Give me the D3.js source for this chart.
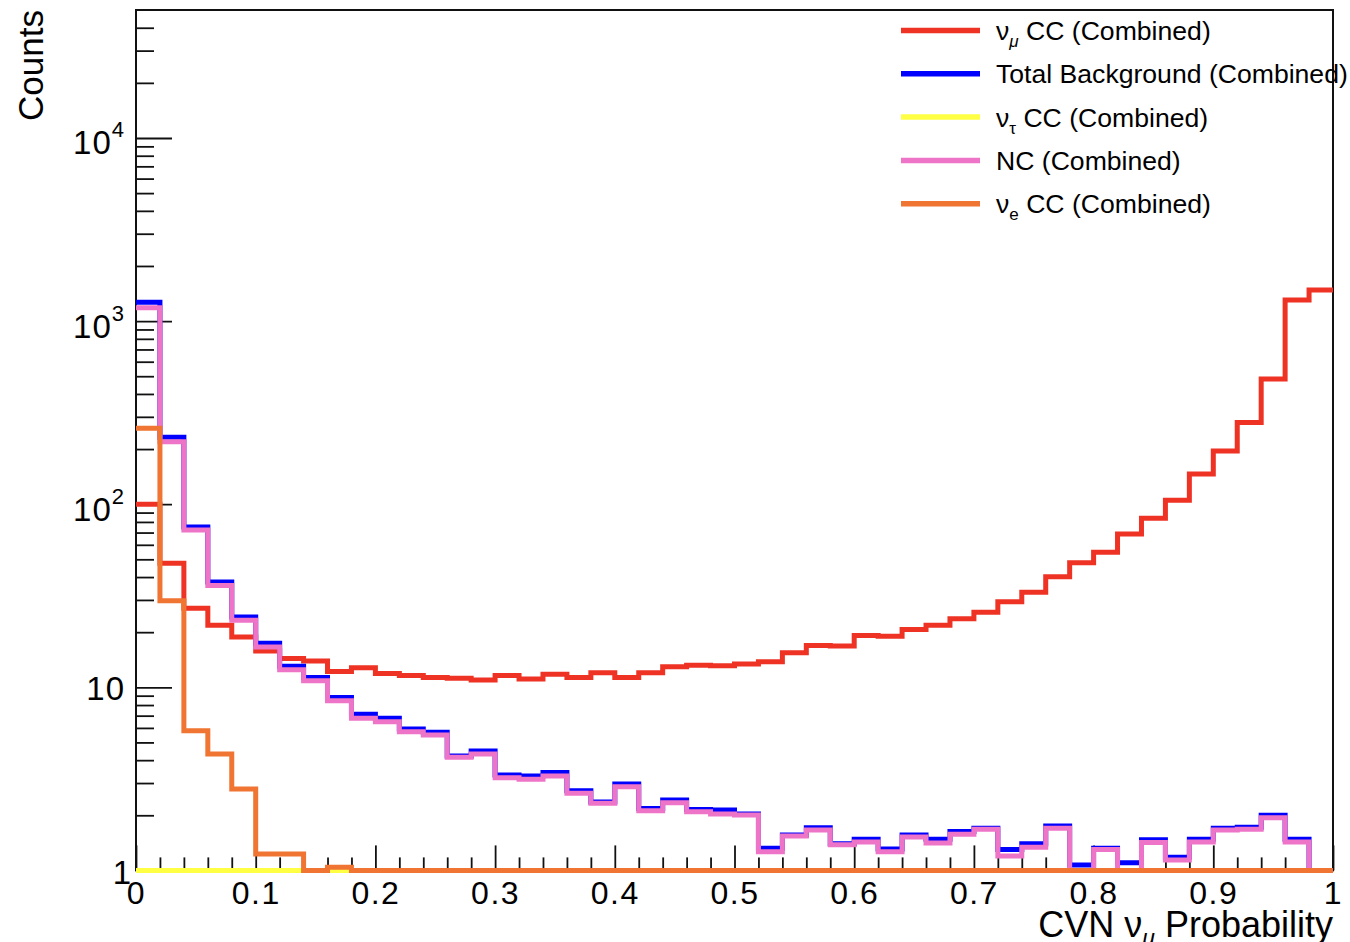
<!DOCTYPE html>
<html>
<head>
<meta charset="utf-8">
<script src="https://cdn.jsdelivr.net/npm/d3@7"></script>
<style>
  body { margin: 0; background: #fff; }
  svg { display: block; }
  text { font-family: "Liberation Sans", Arial, Helvetica, sans-serif; fill: #000; }
</style>
</head>
<body>
<svg id="chart" width="1350" height="942"></svg>
<script>
// ---------------- DATA ----------------
const binEdges = [0,0.02,0.04,0.06,0.08,0.10,0.12,0.14,0.16,0.18,0.20,0.22,0.24,0.26,0.28,0.30,0.32,0.34,0.36,0.38,
  0.40,0.42,0.44,0.46,0.48,0.50,0.52,0.54,0.56,0.58,0.60,0.62,0.64,0.66,0.68,0.70,0.72,0.74,0.76,0.78,
  0.80,0.82,0.84,0.86,0.88,0.90,0.92,0.94,0.96,0.98,1.00];

const numuCC = [100, 47.6, 27.0, 21.8, 18.8, 15.8, 14.35, 13.9, 12.2, 12.8,
  11.9, 11.6, 11.3, 11.2, 10.96, 11.6, 11.1, 11.8, 11.3, 12.0,
  11.3, 12.0, 12.95, 13.2, 13.1, 13.4, 13.8, 15.45, 16.9, 16.8,
  19.2, 19.0, 20.7, 21.8, 23.7, 25.7, 29.3, 33.0, 40.2, 47.9,
  54.6, 68.7, 83.8, 105, 146, 195, 279, 483, 1304, 1479];

const totalBkg = [1267, 232, 75.1, 37.6, 24.2, 17.4, 13.05, 11.3, 8.8, 7.12,
  6.77, 5.92, 5.68, 4.22, 4.49, 3.32, 3.28, 3.42, 2.72, 2.36,
  2.96, 2.18, 2.42, 2.15, 2.14, 2.03, 1.32, 1.56, 1.71, 1.40,
  1.48, 1.31, 1.56, 1.48, 1.63, 1.70, 1.30, 1.40, 1.75, 1.07,
  1.32, 1.10, 1.47, 1.18, 1.48, 1.70, 1.72, 2.0, 1.48, 0];

const nutauCC = [0.4, 0.3, 0.25, 0.2, 0.15, 0.12, 0.1, 0.08, 0.06, 0,
  0, 0, 0, 0, 0, 0, 0, 0, 0, 0,
  0, 0, 0, 0, 0, 0, 0, 0, 0, 0,
  0, 0, 0, 0, 0, 0, 0, 0, 0, 0,
  0, 0, 0, 0, 0, 0, 0, 0, 0, 0];

const ncCounts = [1183, 219, 72.3, 36.0, 23.2, 16.6, 12.45, 10.85, 8.45, 6.77,
  6.49, 5.72, 5.49, 4.15, 4.32, 3.21, 3.15, 3.28, 2.64, 2.33,
  2.86, 2.12, 2.34, 2.09, 2.03, 2.01, 1.265, 1.54, 1.66, 1.38,
  1.43, 1.265, 1.52, 1.41, 1.575, 1.68, 1.20, 1.34, 1.70, 0.9,
  1.30, 0.95, 1.42, 1.14, 1.43, 1.66, 1.68, 1.94, 1.43, 0];

const nueCC = [260, 29.7, 5.79, 4.32, 2.78, 1.23, 1.23, 0, 1.04, 0,
  0, 0, 0, 0, 0, 0, 0, 0, 0, 0,
  0, 0, 0, 0, 0, 0, 0, 0, 0, 0,
  0, 0, 0, 0, 0, 0, 0, 0, 0, 0,
  0, 0, 0, 0, 0, 0, 0, 0, 0, 0];

const xTickValues = [0, 0.1, 0.2, 0.3, 0.4, 0.5, 0.6, 0.7, 0.8, 0.9, 1];
const xTickLabels = ["0", "0.1", "0.2", "0.3", "0.4", "0.5", "0.6", "0.7", "0.8", "0.9", "1"];
const yTickValues = [1, 10, 100, 1000, 10000];
const yTickBase = ["1", "10", "10", "10", "10"];
const yTickExp = ["", "", "2", "3", "4"];

const legendMain = ["ν", "Total Background (Combined)", "ν", "NC (Combined)", "ν"];
const legendSub  = ["μ", "", "τ", "", "e"];
const legendRest = [" CC (Combined)", "", " CC (Combined)", "", " CC (Combined)"];

// ---------------- LAYOUT / STYLE ----------------
const L = 136, R = 1333, T = 10, B = 870.4;
const ink = "#111";
const colors = ["#ee3324", "#0000ff", "#ffff44", "#ee74c8", "#f07432"];
const seriesList = [numuCC, totalBkg, nutauCC, ncCounts, nueCC];

const svg = d3.select("#chart");
const x = d3.scaleLinear().domain([0, 1]).range([L, R]);
const y = d3.scaleLog().domain([1, 5e4]).range([B, T]);
const yv = v => y(Math.max(v, 1));

// frame
svg.append("rect").attr("x", L).attr("y", T).attr("width", R - L).attr("height", B - T)
  .attr("fill", "none").attr("stroke", ink).attr("stroke-width", 2);

// x axis ticks
const xMinor = d3.range(1, 50).map(i => i / 50).filter(v => Math.round(v * 50) % 5 !== 0);
const gx = svg.append("g").attr("transform", `translate(0,${B})`);
gx.append("g").call(d3.axisBottom(x).tickValues(xMinor).tickSize(-13).tickSizeOuter(0).tickFormat(""));
gx.append("g").call(d3.axisBottom(x).tickValues(xTickValues).tickSize(-25).tickSizeOuter(0).tickPadding(11)
  .tickFormat(d => xTickLabels[xTickValues.indexOf(d)]));
gx.selectAll(".domain").remove();
gx.selectAll(".tick line").attr("stroke", ink).attr("stroke-width", 1.8);
gx.selectAll(".tick text").attr("font-size", 32).attr("letter-spacing", 1.5)
  .attr("font-family", "Liberation Sans, Arial, sans-serif").attr("fill", "#000");

// y axis ticks
const yMinor = [];
for (let k = 0; k <= 4; k++) for (let m = 2; m <= 9; m++) { const v = m * Math.pow(10, k); if (v < 5e4) yMinor.push(v); }
const gy = svg.append("g").attr("transform", `translate(${L},0)`);
gy.append("g").call(d3.axisLeft(y).tickValues(yMinor).tickSize(-18).tickSizeOuter(0).tickFormat(""));
const gyMaj = gy.append("g").call(d3.axisLeft(y).tickValues(yTickValues).tickSize(-36).tickSizeOuter(0).tickPadding(11).tickFormat(() => ""));
gy.selectAll(".domain").remove();
gy.selectAll(".tick line").attr("stroke", ink).attr("stroke-width", 1.8);
gyMaj.selectAll(".tick text").each(function(d) {
  const i = yTickValues.indexOf(d);
  const t = d3.select(this).attr("dy", null).attr("font-size", 33).attr("letter-spacing", 1)
    .attr("font-family", "Liberation Sans, Arial, sans-serif").attr("fill", "#000").text("");
  if (yTickBase[i] === "1") t.attr("x", -4);
  if (yTickExp[i]) {
    t.append("tspan").attr("dy", 16).text(yTickBase[i]);
    t.append("tspan").attr("dy", -17).attr("font-size", 22).text(yTickExp[i]);
  } else {
    t.append("tspan").attr("dy", 12.7).text(yTickBase[i]);
  }
});

// histograms
const line = d3.line().x(d => x(d[0])).y(d => yv(d[1]));
seriesList.forEach((vals, s) => {
  const pts = vals.flatMap((v, i) => [[binEdges[i], v], [binEdges[i + 1], v]]);
  svg.append("path").attr("d", line(pts)).attr("fill", "none")
    .attr("stroke", colors[s]).attr("stroke-width", 5)
    .attr("stroke-linejoin", "miter").attr("stroke-linecap", "butt");
});

// legend
const lg = svg.append("g");
legendMain.forEach((m, i) => {
  const ly = 30.5 + i * 43.3;
  lg.append("line").attr("x1", 901).attr("x2", 980).attr("y1", ly).attr("y2", ly)
    .attr("stroke", colors[i]).attr("stroke-width", 5.5);
  const t = lg.append("text").attr("x", 996).attr("y", ly + 9.5).attr("font-size", 26.6);
  t.append("tspan").text(m);
  if (legendSub[i]) {
    t.append("tspan").attr("dy", 7).attr("font-size", 17)
      .attr("font-style", legendSub[i] === "μ" ? "italic" : "normal").text(legendSub[i]);
    t.append("tspan").attr("dy", -7).text(legendRest[i]);
  }
});

// axis titles
const xt = svg.append("text").attr("x", R).attr("y", 937).attr("text-anchor", "end").attr("font-size", 36);
xt.append("tspan").text("CVN ν");
xt.append("tspan").attr("dy", 8).attr("font-size", 23).attr("font-style", "italic").text("μ");
xt.append("tspan").attr("dy", -8).text(" Probability");

svg.append("text").attr("transform", `translate(43,${T}) rotate(-90)`)
  .attr("text-anchor", "end").attr("font-size", 35).text("Counts");
</script>
</body>
</html>
